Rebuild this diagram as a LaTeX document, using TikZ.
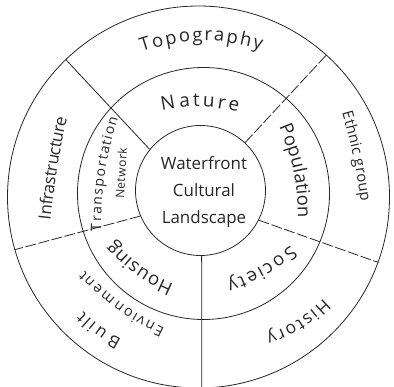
\documentclass[tikz,border=0pt]{standalone}
\usepackage{fontspec}
\setmainfont{Open Sans}
\usetikzlibrary{decorations.text}

\begin{document}
\begin{tikzpicture}[x=1bp, y=1bp,
  ring/.style={circle, draw=black!85, line width=0.8bp, inner sep=0pt},
  spoke/.style={draw=black!85, line width=0.8bp},
  dashspoke/.style={spoke, dash pattern=on 11bp off 2.5bp},
  ringtext/.style 2 args={decorate, decoration={text effects along path, text={#1},
    text effects/.cd, text along path, fit text to path,
    characters={font=\fontsize{#2}{#2}\selectfont, text=black!85}}}]
  \useasboundingbox (0,0) rectangle (394,387);

  % the three rings
  \node (outer) [ring, minimum size=382bp] at (198.5,190) {};
  \node (middle) [ring, minimum size=252bp] at (203.5,193.5) {};
  \node (core) [ring, minimum size=130bp] at (200.5,196.5) {};
  \node (title) [align=center, font=\fontsize{17}{27.5}\selectfont, text=black!85] at (204,195) {Waterfront\\Cultural\\Landscape};

  % spokes
  \draw[spoke] (core.141) -- (outer.134);
  \draw[dashspoke] (core.47) -- (outer.48);
  \draw[dashspoke] (core.203) -- (outer.196);
  \draw[dashspoke] (core.333) -- (outer.340);
  \draw[spoke] (core.271) -- (outer.271);

  % outer ring labels
  \path[ringtext={Topography}{18.5}] (142,335) to[bend left=17] (261,337);
  \path[ringtext={Infrastructure}{17}] (50.5,167) to[bend left=3] (67,269);
  \path[ringtext={Ethnic group}{15}] (342,274) to[bend left=4] (361,185);
  \path[ringtext={History}{17.5}] (323.5,88.5) to[bend left=12] (266,52);
  \path[ringtext={Built}{17}] (121.6,47.7) to[bend left=8] (83,75.7);
  \path[ringtext={Envionment}{14.5}] (165,58.5) to[bend left=10] (84.6,116.6);

  % inner ring labels
  \path[ringtext={Nature}{19}] (162,276) to[bend left=12] (238,275);
  \path[ringtext={Transportation}{14}] (101,156) to[bend left=8] (118,269);
  \path[ringtext={Network}{12}] (124,188) -- (127,239);
  \path[ringtext={Population}{18.5}] (279,260) to[bend left=11] (298,169);
  \path[ringtext={Society}{18.5}] (290.5,141.7) to[bend left=10] (226.6,105.6);
  \path[ringtext={Housing}{18.5}] (174,102.8) to[bend left=12] (113.5,146.3);
\end{tikzpicture}
\end{document}
